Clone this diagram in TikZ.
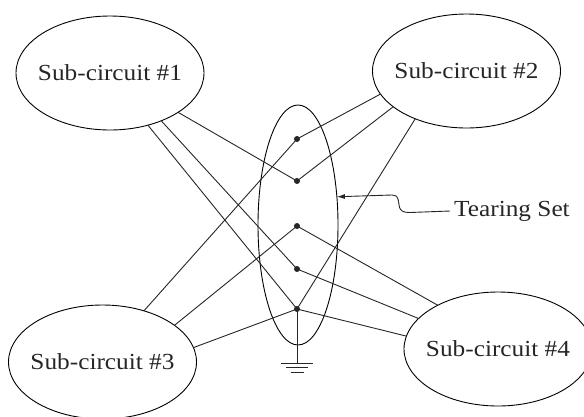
\documentclass[tikz,border=0pt]{standalone}
\usepackage{fontspec}
\setmainfont{Liberation Serif}[FakeStretch=1.1]
\usetikzlibrary{shapes.geometric,arrows.meta}

\begin{document}
\begin{tikzpicture}[x=1pt,y=-1pt,
  wire/.style={line width=0.9pt, black!85},
  sub/.style={draw, ellipse, line width=0.9pt, minimum width=188pt,
    minimum height=114pt, inner sep=0pt, outer sep=0pt},
  lbl/.style={font=\fontsize{23}{27}\selectfont, inner sep=0pt, text=black!85},
  dot/.style={circle, fill=black!85, inner sep=0pt, minimum size=6pt},
  tearset/.style={draw, ellipse, line width=0.9pt, minimum width=80pt,
    minimum height=240pt, inner sep=0pt, outer sep=0pt},
]
\useasboundingbox (0,0) rectangle (584,416);
\clip (0,0) rectangle (584,416);

% sub-circuits
\node[sub] (e1) at (110,73) {};
\node[lbl] (t1) at (e1.center) {Sub-circuit \#1};
\node[sub] (e2) at (466.5,71) {};
\node[lbl] (t2) at (e2.center) {Sub-circuit \#2};
\node[sub] (e3) at (102.5,362) {};
\node[lbl] (t3) at (e3.center) {Sub-circuit \#3};
\node[sub] (e4) at (498,349) {};
\node[lbl] (t4) at (e4.center) {Sub-circuit \#4};

% tearing set
\node[tearset] (ts) at (298,225) {};
\node[dot] (d1) at (297,139) {};
\node[dot] (d2) at (297,181) {};
\node[dot] (d3) at (297,226) {};
\node[dot] (d4) at (297,269) {};
\node[dot] (d5) at (297,309) {};

% interconnections
\draw[wire] (e1.-54) -- (d5.center);
\draw[wire] (e1.-43) -- (d4.center);
\draw[wire] (e1.-30) -- (d2.center);
\draw[wire] (e2.195) -- (d1.center);
\draw[wire] (e2.206.7) -- (d2.center);
\draw[wire] (e2.223.6) -- (d5.center);
\draw[wire] (e3.51.7) -- (d1.center);
\draw[wire] (e3.27) -- (d3.center);
\draw[wire] (e3.9.4) -- (d5.center);
\draw[wire] (e4.144) -- (d3.center);
\draw[wire] (e4.159.4) -- (d4.center);
\draw[wire] (e4.172.6) -- (d5.center);

% ground
\coordinate (g) at (297,363);
\draw[wire] (d5.center) -- (g);
\draw[wire] ([xshift=-16pt]g) -- ([xshift=16pt]g);
\draw[wire] ([xshift=-11pt,yshift=-4.5pt]g) -- ([xshift=11pt,yshift=-4.5pt]g);
\draw[wire] ([xshift=-6.5pt,yshift=-9pt]g) -- ([xshift=6.5pt,yshift=-9pt]g);

% label with pointer
\node[lbl, anchor=west, inner sep=4pt] (tl) at (450,211) {Tearing Set};
\draw[wire, -{Latex[length=8pt,width=5pt]}] (tl.west) -- (410,212.5)
  .. controls (396,213) and (400,203) .. (398,199)
  .. controls (397,196) .. (392,195) -- (ts.36.6);
\end{tikzpicture}
\end{document}
